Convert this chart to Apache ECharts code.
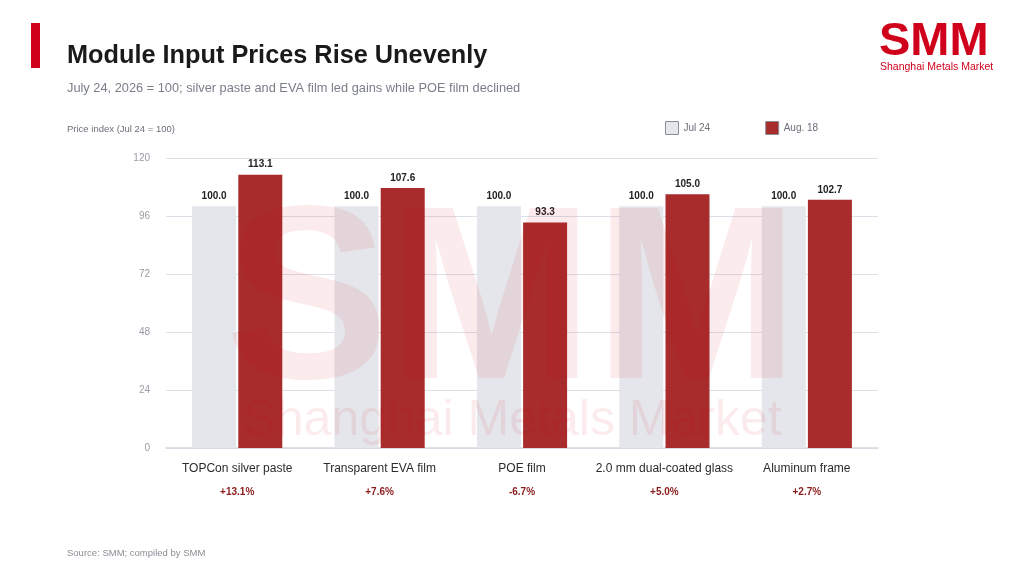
<!DOCTYPE html>
<html>
<head>
<meta charset="utf-8">
<title>Module Input Prices Rise Unevenly</title>
<script src="https://cdn.jsdelivr.net/npm/echarts@6/dist/echarts.min.js"></script>
<style>
html,body{margin:0;padding:0;background:#fff;}
#main{width:1024px;height:576px;}
</style>
</head>
<body>
<div id="main"></div>
<script>
// 数据
var categories = ['TOPCon silver paste', 'Transparent EVA film', 'POE film', '2.0 mm dual-coated glass', 'Aluminum frame'];
var jul24 = [100.0, 100.0, 100.0, 100.0, 100.0];
var aug18 = [113.1, 107.6, 93.3, 105.0, 102.7];
var yTicks = [0, 24, 48, 72, 96, 120];

// 涨跌幅
var changes = [];
for (var i = 0; i < categories.length; i++) {
	var c = (aug18[i] / jul24[i] - 1) * 100;
	changes.push((c >= 0 ? '+' : '') + c.toFixed(1) + '%');
}

var font = 'Liberation Sans, Arial, sans-serif';
var myChart = echarts.init(document.getElementById('main'));

var option = {
	backgroundColor: '#fff',
	textStyle: { fontFamily: font },
	animation: false,
	legend: {
		left: 660,
		top: 116,
		itemWidth: 13,
		itemHeight: 13,
		itemGap: 55,
		icon: 'rect',
		textStyle: { color: '#6b6f78', fontSize: 10, padding: [-4, 0, 0, 0] },
		itemStyle: { borderColor: '#8a8d94', borderWidth: 1 },
		data: ['Jul 24', 'Aug. 18']
	},
	grid: { left: 166, right: 146, top: 158, bottom: 128 },
	xAxis: {
		type: 'category',
		data: categories,
		axisTick: { show: false },
		axisLine: { lineStyle: { color: '#d4d7e0', width: 1.5 } },
		axisLabel: {
			interval: 0,
			margin: 10,
			formatter: function (v, idx) {
				return '{n|' + v + '}\n{p|' + changes[idx] + '}';
			},
			rich: {
				n: { fontSize: 12, color: '#2b2b2b', lineHeight: 22, fontFamily: font },
				p: { fontSize: 10, color: '#8b1a1a', fontWeight: 'bold', lineHeight: 24, fontFamily: font }
			}
		}
	},
	yAxis: {
		type: 'value',
		min: yTicks[0],
		max: yTicks[yTicks.length - 1],
		interval: 24,
		axisLine: { show: false },
		axisTick: { show: false },
		splitLine: { lineStyle: { color: '#dde0e8', width: 1.2 } },
		axisLabel: { color: '#9a9ca3', fontSize: 10, margin: 16 }
	},
	series: [
		{
			name: 'Jul 24',
			type: 'bar',
			barWidth: 44,
			barGap: '5%',
			itemStyle: { color: '#e5e6eb' },
			label: {
				show: true, position: 'top', distance: 5,
				formatter: function (p) { return p.value.toFixed(1); },
				color: '#222', fontSize: 10, fontWeight: 'bold'
			},
			data: jul24
		},
		{
			name: 'Aug. 18',
			type: 'bar',
			barWidth: 44,
			itemStyle: { color: '#a82c2c' },
			label: {
				show: true, position: 'top', distance: 5,
				formatter: function (p) { return p.value.toFixed(1); },
				color: '#222', fontSize: 10, fontWeight: 'bold'
			},
			data: aug18
		}
	],
	graphic: [
		// 标题竖条
		{ type: 'rect', left: 31, top: 23, shape: { width: 9, height: 45 }, style: { fill: '#d0021b' } },
		{ type: 'text', left: 67, top: 44, style: { text: 'Module Input Prices Rise Unevenly', fill: '#1a1a1a', font: 'bold 25.3px ' + font } },
		{ type: 'text', left: 67, top: 82, style: { text: 'July 24, 2026 = 100; silver paste and EVA film led gains while POE film declined', fill: '#7a7e88', font: '12.8px ' + font } },
		{ type: 'text', left: 67, top: 124, style: { text: 'Price index (Jul 24 = 100)', fill: '#6b6f78', font: '9.5px ' + font } },
		{ type: 'text', left: 67, top: 548, style: { text: 'Source: SMM; compiled by SMM', fill: '#8a8d94', font: '9.5px ' + font } },
		// logo
		{ type: 'text', left: 879, top: 19, style: { text: 'SMM', fill: '#d0021b', font: '900 47px ' + font } },
		{ type: 'text', left: 880, top: 62, style: { text: 'Shanghai Metals Market', fill: '#d0021b', font: '10.5px ' + font } },
		// 水印
		{ type: 'text', x: 512, y: 310, z: 100, zlevel: 1, silent: true, style: { text: 'SMM', fill: 'rgba(208,2,27,0.08)', font: '900 246px ' + font, align: 'center', verticalAlign: 'middle' } },
		{ type: 'text', x: 512, y: 421, z: 100, zlevel: 1, silent: true, style: { text: 'Shanghai Metals Market', fill: 'rgba(208,2,27,0.08)', font: '50px ' + font, align: 'center', verticalAlign: 'middle' } }
	]
};

myChart.setOption(option);
</script>
</body>
</html>
